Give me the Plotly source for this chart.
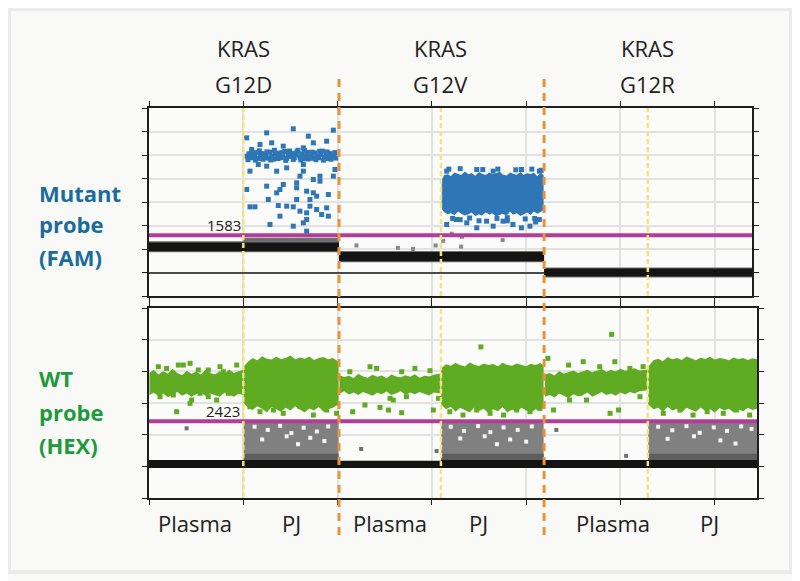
import plotly.graph_objects as go

# ---------------- data (x = droplet event number in thousands, y = amplitude) ----------------
well_names = ["Plasma", "PJ", "Plasma", "PJ", "Plasma", "PJ"]
well_label_x = [4.9, 15.1, 25.6, 34.9, 49.2, 59.4]
well_separators = [10.0, 30.96, 52.9]      # yellow dotted lines
assay_separators = [20.15, 41.9]           # orange dashed lines
assay_names = ["G12D", "G12V", "G12R"]
assay_label_x = [10.0, 30.96, 52.9]

fam_threshold = 1583
hex_threshold = 2423

# FAM negative droplet bands
fam_neg_x0 = [0.0, 10.0, 20.15, 41.9]
fam_neg_x1 = [10.0, 20.15, 41.9, 63.95]
fam_neg_lo = [900, 900, 480, -170]
fam_neg_hi = [1280, 1280, 870, 170]
fam_halo_lo = [860, 860, 440, -210]
fam_halo_hi = [1330, 1480, 910, 210]

# FAM positive droplets, KRAS G12D PJ (dense row)
g12d_dense_x = [10.4, 10.6, 10.8, 11.0, 11.2, 11.4, 11.6, 11.8, 12.0, 12.2, 12.4, 12.6, 12.8, 13.0, 13.2, 13.4,
                13.6, 13.8, 14.0, 14.2, 14.4, 14.6, 14.8, 15.0, 15.2, 15.4, 15.6, 15.8, 16.0, 16.2, 16.4, 16.6,
                16.8, 17.0, 17.2, 17.4, 17.6, 17.8, 18.0, 18.2, 18.4, 18.6, 18.8, 19.0, 19.2, 19.4, 19.6, 19.8,
                10.5, 10.9, 11.3, 11.7, 12.1, 12.5, 12.9, 13.3, 13.7, 14.1, 14.5, 14.9, 15.3, 15.7, 16.1, 16.5,
                16.9, 17.3, 17.7, 18.1, 18.5, 18.9, 19.3, 19.7]
g12d_dense_y = [4950, 5050, 4880, 5000, 4920, 5100, 4850, 4980, 5060, 4900, 5010, 4870, 5120, 4960, 4820, 5040,
                4930, 5080, 4890, 4990, 5150, 4860, 5020, 4940, 5070, 4880, 5000, 5200, 4910, 5050, 4840, 4970,
                5110, 4900, 5030, 4860, 5090, 4950, 4880, 5020, 5160, 4920, 5000, 4850, 5060, 4930, 4990, 4870,
                4800, 5150, 4780, 5180, 4820, 5130, 4790, 5200, 4850, 5100, 4770, 5170, 4810, 5140, 4790, 5190,
                4830, 5120, 4800, 5160, 4780, 5130, 4820, 5100]
# FAM positive droplets, KRAS G12D PJ (scattered)
g12d_sparse_x = [15.30, 12.48, 19.55, 10.36, 16.90, 11.77, 17.43, 18.84, 16.37, 14.24, 13.01, 10.89, 10.71, 13.54,
                 14.60, 12.48, 16.37, 19.55, 16.01, 17.43, 18.13, 15.66, 12.48, 13.89, 13.54, 15.66, 16.72, 17.43,
                 19.02, 10.36, 12.65, 13.71, 14.60, 15.66, 17.07, 10.71, 11.24, 15.30, 16.01, 16.72, 17.78, 18.84,
                 19.02, 13.89, 16.72, 16.37, 12.83, 15.30, 16.72, 18.31, 18.13, 19.72, 11.59, 16.37, 14.24, 17.78,
                 17.07]
g12d_sparse_y = [6113, 5943, 6057, 5730, 5801, 5447, 5518, 5588, 5305, 5376, 5518, 5234, 4312, 4312,
                 4454, 4525, 4596, 4099, 4099, 3957, 3887, 3816, 3674, 3532, 3390, 3603, 3461, 3390,
                 3319, 3532, 3106, 2851, 2823, 3106, 3106, 2794, 2794, 2794, 2610, 2539, 2681, 2752,
                 2397, 2397, 2255, 2113, 2043, 1972, 1759, 2468, 4099, 4383, 4596, 4312, 3745, 3248,
                 2823]

# FAM positive droplets, KRAS G12V PJ (dense cloud: upper edge then lower edge)
g12v_edge_x = [31.05, 31.3, 31.7, 32.0, 32.4, 32.8, 33.1, 33.5, 33.9, 34.2, 34.6, 35.0, 35.3, 35.7, 36.1, 36.4,
               36.8, 37.2, 37.5, 37.9, 38.3, 38.6, 39.0, 39.4, 39.7, 40.1, 40.5, 40.8, 41.2, 41.5, 41.85]
g12v_upper = [3950, 4150, 4180, 4100, 4250, 4200, 4150, 4300, 4180, 4230, 4120, 4280, 4200, 4150, 4260, 4180,
              4220, 4300, 4170, 4130, 4250, 4200, 4160, 4280, 4150, 4220, 4190, 4250, 4100, 4230, 4150]
g12v_lower = [2700, 2560, 2480, 2520, 2450, 2600, 2500, 2430, 2480, 2550, 2400, 2480, 2420, 2550, 2470, 2520,
              2380, 2450, 2500, 2420, 2580, 2460, 2520, 2400, 2480, 2550, 2450, 2600, 2500, 2550, 2650]
g12v_sparse_x = [31.57, 33.70, 34.76, 36.50, 38.60, 39.50, 40.40, 35.80, 41.40, 37.55, 32.60,
                 31.57, 34.76, 39.50, 41.40, 36.50, 33.0, 38.0, 40.9,
                 31.8, 33.0, 35.4, 37.0, 38.9, 40.6, 41.6, 32.2, 34.0, 35.0, 36.9, 38.0, 39.9, 41.0]
g12v_sparse_y = [2043, 2113, 1901, 1972, 2043, 1901, 1972, 2184, 2255, 2184, 2255,
                 4312, 4383, 4383, 4312, 4312, 2250, 2200, 2300,
                 4400, 4420, 4380, 4400, 4370, 4400, 4350, 2300, 2320, 2200, 2300, 2330, 2280, 2150]
# FAM rain (grey) droplets
fam_rain_x = [22.0, 26.4, 30.4, 31.2, 32.1, 33.2, 37.5, 33.1, 28.0]
fam_rain_y = [1150, 1050, 1150, 1350, 1650, 1520, 1380, 1100, 1000]

# HEX negative droplet bands
hex_neg_x0 = [0.0, 10.0, 20.15, 30.96, 41.9, 52.9]
hex_neg_x1 = [10.0, 20.15, 30.96, 41.9, 52.9, 64.48]
hex_neg_lo = [950, 950, 950, 950, 950, 950]
hex_neg_hi = [1200, 1200, 1180, 1200, 1200, 1200]
# HEX grey (FAM-only / rain) clusters in PJ wells
hex_grey_x0 = [10.05, 31.0, 52.95]
hex_grey_x1 = [20.1, 41.85, 64.48]
hex_grey_lo = [1200, 1200, 1200]
hex_grey_hi = [2370, 2380, 2370]
hex_greydark_hi = [1400, 1400, 1400]
# white gaps inside the grey clusters
hex_gap_x = [11.2, 12.6, 13.9, 15.1, 16.4, 17.8, 19.0, 12.0, 14.6, 17.1, 18.6, 15.8,
             32.0, 33.4, 34.9, 36.2, 37.6, 39.1, 40.6, 33.0, 35.6, 38.3, 40.0, 36.9,
             54.0, 55.5, 57.0, 58.4, 59.9, 61.3, 62.8, 63.9, 55.0, 57.8, 60.6, 62.2]
hex_gap_y = [2250, 2150, 2280, 2050, 2220, 2100, 2260, 1850, 1950, 1900, 1800, 1700,
             2250, 2120, 2270, 2080, 2230, 2150, 2260, 1880, 1950, 1850, 1780, 1700,
             2250, 2140, 2270, 2060, 2230, 2120, 2260, 2180, 1870, 1950, 1820, 1720]

# HEX positive droplets: plasma cores
hexD_pl_x = [0.05, 0.5, 1.0, 1.5, 2.0, 2.5, 3.0, 3.5, 4.0, 4.5, 5.0, 5.5, 6.0, 6.5, 7.0, 7.5, 8.0, 8.5, 9.0,
             9.5, 9.95]
hexD_pl_hi = [3950, 4050, 3900, 4000, 3930, 4080, 3950, 3880, 4020, 3920, 3990, 3900, 4050, 3950, 3900, 4000,
              3930, 4060, 3950, 4000, 4050]
hexD_pl_lo = [3250, 3320, 3220, 3300, 3180, 3270, 3350, 3230, 3300, 3200, 3280, 3330, 3220, 3300, 3250, 3200,
              3320, 3250, 3200, 3290, 3250]
hexV_pl_x = [20.2, 20.7, 21.2, 21.7, 22.2, 22.7, 23.2, 23.7, 24.2, 24.7, 25.2, 25.7, 26.2, 26.7, 27.2, 27.7,
             28.2, 28.7, 29.2, 29.7, 30.2, 30.9]
hexV_pl_hi = [3880, 3820, 3860, 3790, 3920, 3840, 3800, 3890, 3830, 3870, 3780, 3900, 3840, 3810, 3880, 3830,
              3910, 3800, 3860, 3840, 3890, 3930]
hexV_pl_lo = [3300, 3370, 3270, 3330, 3250, 3350, 3290, 3230, 3320, 3280, 3360, 3250, 3310, 3370, 3260, 3330,
              3280, 3350, 3300, 3240, 3330, 3300]
hexR_pl_x = [42.0, 42.5, 43.0, 43.5, 44.0, 44.5, 45.0, 45.5, 46.0, 46.5, 47.0, 47.5, 48.0, 48.5, 49.0, 49.5,
             50.0, 50.5, 51.0, 51.5, 52.0, 52.85]
hexR_pl_hi = [3900, 3950, 3870, 4000, 3930, 3970, 4030, 3950, 4000, 4050, 3970, 4030, 4070, 3990, 4040, 4000,
              4080, 4020, 4050, 4100, 4030, 4050]
hexR_pl_lo = [3200, 3250, 3170, 3300, 3230, 3150, 3280, 3210, 3250, 3330, 3200, 3270, 3350, 3250, 3300, 3230,
              3330, 3270, 3350, 3300, 3370, 3400]
# HEX positive droplets: PJ clouds
hexD_pj_x = [10.05, 10.5, 11.0, 11.5, 12.0, 12.5, 13.0, 13.5, 14.0, 14.5, 15.0, 15.5, 16.0, 16.5, 17.0, 17.5,
             18.0, 18.5, 19.0, 19.5, 20.1]
hexD_pj_hi = [4150, 4300, 4420, 4350, 4480, 4400, 4370, 4460, 4390, 4420, 4500, 4380, 4440, 4400, 4470, 4360,
              4420, 4450, 4380, 4420, 4300]
hexD_pj_lo = [3000, 2850, 2780, 2900, 2820, 2700, 2880, 2790, 2720, 2850, 2760, 2900, 2800, 2700, 2830, 2760,
              2880, 2720, 2800, 2850, 2950]
hexV_pj_x = [31.0, 31.5, 32.0, 32.5, 33.0, 33.5, 34.0, 34.5, 35.0, 35.5, 36.0, 36.5, 37.0, 37.5, 38.0, 38.5,
             39.0, 39.5, 40.0, 40.5, 41.0, 41.5, 41.85]
hexV_pj_hi = [4100, 4220, 4180, 4260, 4200, 4150, 4280, 4210, 4170, 4250, 4200, 4230, 4160, 4270, 4200, 4180,
              4250, 4210, 4160, 4240, 4200, 4260, 4180]
hexV_pj_lo = [2950, 2800, 2880, 2720, 2850, 2780, 2700, 2860, 2750, 2820, 2680, 2800, 2740, 2870, 2700, 2790,
              2720, 2850, 2760, 2690, 2800, 2740, 2880]
hexR_pj_x = [52.95, 53.5, 54.0, 54.5, 55.0, 55.5, 56.0, 56.5, 57.0, 57.5, 58.0, 58.5, 59.0, 59.5, 60.0, 60.5,
             61.0, 61.5, 62.0, 62.5, 63.0, 63.5, 64.0, 64.48]
hexR_pj_hi = [4150, 4350, 4400, 4320, 4450, 4380, 4420, 4360, 4470, 4400, 4350, 4430, 4390, 4460, 4370, 4420,
              4400, 4350, 4440, 4380, 4420, 4360, 4410, 4380]
hexR_pj_lo = [2950, 2800, 2850, 2720, 2880, 2760, 2820, 2700, 2850, 2780, 2720, 2860, 2750, 2800, 2700, 2840,
              2760, 2820, 2700, 2800, 2740, 2850, 2780, 2820]
# HEX scattered positive droplets
hex_sparse_x = [0.99, 1.87, 3.11, 3.64, 4.35, 5.23, 7.53, 9.30, 7.88, 6.29, 1.17, 2.58, 4.52, 6.29, 8.41,
                2.93, 4.35, 2.05, 5.41, 7.18, 0.46, 9.47,
                23.44, 24.14, 28.2, 29.8, 26.8, 25.56, 22.9, 24.5, 25.9, 26.8, 30.15, 21.3, 25.4, 30.7, 21.6,
                22.7, 27.3, 28.7,
                49.06, 42.9, 48.9, 49.8, 52.07, 44.6, 46.05, 49.4, 47.8, 51.0, 46.4, 52.4, 44.5, 42.3, 50.3, 45.7,
                10.71, 11.77, 13.19, 14.24, 16.01, 17.43, 18.84, 19.9, 14.95, 12.12,
                31.9, 33.3, 34.75, 36.17, 37.6, 39.0, 40.4, 41.46, 35.2,
                54.54, 56.3, 57.7, 59.2, 60.9, 62.3, 63.7]
hex_sparse_y = [4146, 4093, 4199, 4199, 4253, 4042, 4146, 4199, 3988, 4042, 3200, 3253, 3094, 3200, 3306,
                2725, 2990, 3410, 3306, 3094, 3567, 3621,
                4146, 4093, 4093, 4020, 3988, 3147, 2937, 2862, 3094, 2695, 2778, 3988, 2778, 3147, 2725,
                3725, 3200, 3567,
                5168, 2778, 2674, 2778, 3200, 3094, 4304, 4304, 4146, 4093, 3094, 4146, 4199, 4410, 3410, 3306,
                2883, 2725, 2778, 2674, 2883, 2620, 2778, 2674, 2990, 2990,
                2725, 2620, 2778, 2674, 2620, 2778, 2725, 2830, 4770,
                2674, 2778, 2620, 2725, 2674, 2778, 2620]
hex_rain_x = [22.5, 30.5, 43.2, 50.6, 3.99]
hex_rain_y = [1547, 1484, 2150, 1330, 2200]

# ---------------- colours ----------------
BLUE = "#2f76b7"
GREEN = "#5fab22"
BLACK = "#141414"
GREY = "#808080"
PINK = "#b23c98"
ORANGE = "#e8923a"
YELLOW = "#f1e57c"


def rects(x0s, x1s, los, his):
    xs, ys = [], []
    for a, b, lo, hi in zip(x0s, x1s, los, his):
        xs += [a, b, b, a, a, None]
        ys += [lo, lo, hi, hi, lo, None]
    return xs, ys


def cloud(xs, his, los):
    return list(xs) + list(xs)[::-1] + [xs[0]], list(his) + list(los)[::-1] + [his[0]]


fig = go.Figure()


def add_poly(xs, ys, color, xa, ya):
    fig.add_trace(go.Scatter(x=xs, y=ys, mode="lines", fill="toself", fillcolor=color,
                             line=dict(width=0, color=color), xaxis=xa, yaxis=ya,
                             hoverinfo="skip", showlegend=False))


def add_pts(xs, ys, color, xa, ya, size=4):
    fig.add_trace(go.Scatter(x=xs, y=ys, mode="markers",
                             marker=dict(symbol="square", size=size, color=color, line=dict(width=0)),
                             xaxis=xa, yaxis=ya, hoverinfo="skip", showlegend=False))


# ---- top panel (FAM) ----
hx, hy = rects(fam_neg_x0, fam_neg_x1, fam_halo_lo, fam_halo_hi)
add_poly(hx, hy, "#6e6e6e", "x", "y")
bx, by = rects(fam_neg_x0, fam_neg_x1, fam_neg_lo, fam_neg_hi)
add_poly(bx, by, BLACK, "x", "y")
add_pts(fam_rain_x, fam_rain_y, "#8a8a8a", "x", "y")
vx, vy = cloud(g12v_edge_x, g12v_upper, g12v_lower)
add_poly(vx, vy, BLUE, "x", "y")
add_pts(g12v_sparse_x, g12v_sparse_y, BLUE, "x", "y", 5)
add_pts(g12d_dense_x, g12d_dense_y, BLUE, "x", "y", 5)
add_pts(g12d_sparse_x, g12d_sparse_y, BLUE, "x", "y", 5)

# ---- bottom panel (HEX) ----
gx, gy = rects(hex_grey_x0, hex_grey_x1, hex_grey_lo, hex_grey_hi)
add_poly(gx, gy, GREY, "x2", "y2")
add_pts(hex_gap_x, hex_gap_y, "#f4f4f2", "x2", "y2", 4)
gdx, gdy = rects(hex_grey_x0, hex_grey_x1, hex_grey_lo, hex_greydark_hi)
add_poly(gdx, gdy, "#5e5e5e", "x2", "y2")
nx, ny = rects(hex_neg_x0, hex_neg_x1, hex_neg_lo, hex_neg_hi)
add_poly(nx, ny, BLACK, "x2", "y2")
add_pts(hex_rain_x, hex_rain_y, "#707070", "x2", "y2")
for cx, chi, clo in [(hexD_pl_x, hexD_pl_hi, hexD_pl_lo), (hexV_pl_x, hexV_pl_hi, hexV_pl_lo),
                     (hexR_pl_x, hexR_pl_hi, hexR_pl_lo), (hexD_pj_x, hexD_pj_hi, hexD_pj_lo),
                     (hexV_pj_x, hexV_pj_hi, hexV_pj_lo), (hexR_pj_x, hexR_pj_hi, hexR_pj_lo)]:
    px_, py_ = cloud(cx, chi, clo)
    add_poly(px_, py_, GREEN, "x2", "y2")
add_pts(hex_sparse_x, hex_sparse_y, GREEN, "x2", "y2", 5)

# ---------------- layout ----------------
# The page body has an 8px margin, so figure pixel = page pixel - 8.
OFF = 8
FIG_W, FIG_H = 800 - OFF, 581 - OFF
PLOT_TOP, PLOT_BOTTOM = 108 - OFF, 498 - OFF
H = PLOT_BOTTOM - PLOT_TOP
L = 149 - OFF
W = 608
R = FIG_W - L - W


def py2paper(p):  # p = page pixel
    return (PLOT_BOTTOM - (p - OFF)) / H


def px2paper(p):
    return ((p - OFF) - L) / W


axis_common = dict(showline=True, linecolor="#1e1e1e", linewidth=1.5, mirror="ticks",
                   ticks="outside", ticklen=5, tickcolor="#1e1e1e", tickwidth=1.2,
                   showticklabels=False, showgrid=True, gridcolor="#e2e2e2", gridwidth=1.5)

fig.update_layout(
    width=FIG_W, height=FIG_H,
    margin=dict(l=L, r=R, t=PLOT_TOP, b=FIG_H - PLOT_BOTTOM),
    paper_bgcolor="#f9f9f7", plot_bgcolor="#fbfbfa",
    font=dict(family="Open Sans", color="#222"),
    showlegend=False,
    xaxis=dict(domain=[0, 603 / W], range=[0, 63.95], dtick=10, anchor="y", zeroline=False, **axis_common),
    yaxis=dict(domain=[py2paper(296), 1], range=[-1000, 7000], dtick=1000, anchor="x",
               zeroline=True, zerolinecolor="#4a4a4a", zerolinewidth=1.5, **axis_common),
    xaxis2=dict(domain=[0, 1], range=[0, 64.48], dtick=10, anchor="y2", zeroline=False, **axis_common),
    yaxis2=dict(domain=[0, py2paper(308)], range=[0, 6000], dtick=1000, anchor="x2",
                zeroline=False, **axis_common),
)

shapes = []
shapes.append(dict(type="line", xref="x domain", yref="y", x0=0, x1=1, y0=fam_threshold, y1=fam_threshold,
                   line=dict(color=PINK, width=4)))
shapes.append(dict(type="line", xref="x2 domain", yref="y2", x0=0, x1=1, y0=hex_threshold, y1=hex_threshold,
                   line=dict(color=PINK, width=4)))
for xv in well_separators:
    shapes.append(dict(type="line", xref="x", yref="y domain", x0=xv, x1=xv, y0=0, y1=1,
                       line=dict(color=YELLOW, width=2.5, dash="5px,3px")))
    shapes.append(dict(type="line", xref="x2", yref="y2 domain", x0=xv, x1=xv, y0=0, y1=1,
                       line=dict(color=YELLOW, width=2.5, dash="5px,3px")))
for xv in assay_separators:
    shapes.append(dict(type="line", xref="x", yref="paper", x0=xv, x1=xv, y0=py2paper(535), y1=py2paper(77),
                       line=dict(color=ORANGE, width=3, dash="8px,6px")))
# light outer frame
shapes.append(dict(type="rect", xref="paper", yref="paper", x0=px2paper(9), x1=px2paper(791),
                   y0=py2paper(572), y1=py2paper(9), line=dict(color="#ebebeb", width=4)))
fig.update_layout(shapes=shapes)

ann = []
ann.append(dict(text=str(fam_threshold), x=7.95, y=fam_threshold, xref="x", yref="y", showarrow=False,
                xanchor="center", yanchor="middle", yshift=10, font=dict(size=15, color="#222")))
ann.append(dict(text=str(hex_threshold), x=7.85, y=hex_threshold, xref="x2", yref="y2", showarrow=False,
                xanchor="center", yanchor="middle", yshift=10, font=dict(size=15, color="#222")))
for name, xv in zip(assay_names, assay_label_x):
    ann.append(dict(text="KRAS", x=xv, y=py2paper(48), xref="x", yref="paper", showarrow=False,
                    xanchor="center", yanchor="middle", font=dict(size=22, color="#222")))
    ann.append(dict(text=name, x=xv, y=py2paper(84), xref="x", yref="paper", showarrow=False,
                    xanchor="center", yanchor="middle", font=dict(size=22, color="#222")))
for name, xv in zip(well_names, well_label_x):
    ann.append(dict(text=name, x=xv, y=py2paper(523), xref="x2", yref="paper", showarrow=False,
                    xanchor="center", yanchor="middle", font=dict(size=22, color="#222")))
for txt, yp in zip(["Mutant", "probe", "(FAM)"], [193, 224, 257]):
    ann.append(dict(text="<b>%s</b>" % txt, x=px2paper(37), y=py2paper(yp), xref="paper", yref="paper",
                    xanchor="left", yanchor="middle", showarrow=False, font=dict(size=22, color="#1b6c9e")))
for txt, yp in zip(["WT", "probe", "(HEX)"], [378, 412, 445]):
    ann.append(dict(text="<b>%s</b>" % txt, x=px2paper(37), y=py2paper(yp), xref="paper", yref="paper",
                    xanchor="left", yanchor="middle", showarrow=False, font=dict(size=22, color="#1e9a3c")))
fig.update_layout(annotations=ann)

fig.write_html("out.html")
